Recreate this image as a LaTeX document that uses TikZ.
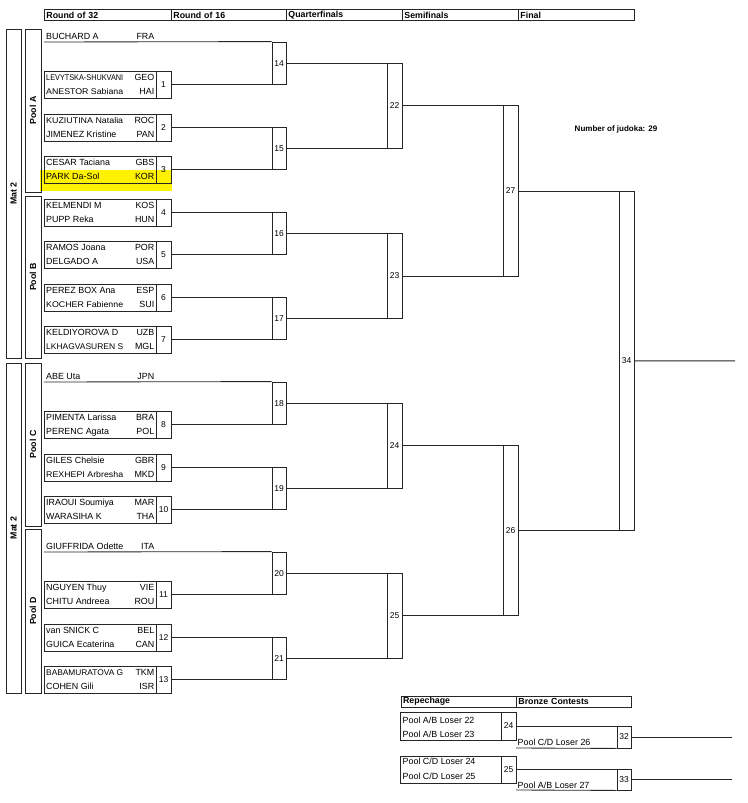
\documentclass[tikz,border=0pt]{standalone}
\usepackage{fontspec}
\setmainfont{Liberation Sans}
\usepackage{graphicx}
\newsavebox\nmsave
\newcommand\fitnm[1]{\sbox\nmsave{#1}\ifdim\wd\nmsave>77pt\resizebox{77pt}{0.93\height}{#1}\else#1\fi}
\tikzset{
 ln/.style={draw=black!85, line width=0.85pt},
 pbox/.style={ln, inner sep=0pt, rectangle},
 nbox/.style={ln, inner sep=0pt, rectangle, font=\fontsize{8.5}{9}\selectfont},
 nm/.style={inner sep=0pt, font=\fontsize{8.9}{10}\selectfont},
 hdr/.style={ln, inner xsep=2pt, inner ysep=0pt, minimum height=11, align=left, anchor=west, font=\bfseries\fontsize{8.8}{10}\selectfont},
 side/.style={ln, inner sep=0pt, rotate=90, font=\bfseries\fontsize{8.8}{10}\selectfont},
 conn/.style={draw=black!85, line width=0.85pt},
}
% box from (x1,y1) to (x2,y2)
\newcommand\tbox[6]{\node[nbox, minimum width={#4-#2}, minimum height={#5-#3}] (#1) at ({(#2+#4)/2},{(#3+#5)/2}) {#6};}
% round of 32 match: id, top, name1, cc1, name2, cc2
\newcommand\rmatch[6]{%
 \node[pbox, minimum width=112, minimum height=27] (m#1) at (100,{#2+13.5}) {};
 \node[nbox, minimum width=15, minimum height=27] (n#1) at (163.5,{#2+13.5}) {#1};
 \node[nm, anchor=base west] (m#1a) at (46,{#2+9.7}) {\fitnm{#3}};
 \node[nm, anchor=base east] (m#1ac) at (154.5,{#2+9.7}) {#4};
 \node[nm, anchor=base west] (m#1b) at (46,{#2+23.7}) {\fitnm{#5}};
 \node[nm, anchor=base east] (m#1bc) at (154.5,{#2+23.7}) {#6};
}
\begin{document}
\begin{tikzpicture}[x=1pt,y=-1pt]
\useasboundingbox (0,0) rectangle (747,803);
\fill[yellow] (40,170) rectangle (172,191);
% headers
\node[hdr, text width=123pt] (h1) at (44,15) {Round of 32};
\node[hdr, text width=111pt] (h2) at (171,15) {Round of 16};
\node[hdr, text width=112pt] (h3) at (286,15) {Quarterfinals};
\node[hdr, text width=112pt] (h4) at (402,15) {Semifinals};
\node[hdr, text width=112pt] (h5) at (518,15) {Final};
% mat and pool boxes
\node[side, minimum width=329, minimum height=15] (mat1) at (13.5,193.5) {Mat 2};
\node[side, minimum width=330, minimum height=15] (mat2) at (13.5,528) {Mat 2};
\node[side, minimum width=163, minimum height=16] (pA) at (33,110.5) {Pool A};
\node[side, minimum width=162, minimum height=16] (pB) at (33,277) {Pool B};
\node[side, minimum width=163, minimum height=16] (pC) at (33,444.5) {Pool C};
\node[side, minimum width=164, minimum height=16] (pD) at (33,611) {Pool D};
% round of 32
\rmatch{1}{71}{LEVYTSKA-SHUKVANI}{GEO}{ANESTOR Sabiana}{HAI}
\rmatch{2}{114}{KUZIUTINA Natalia}{ROC}{JIMENEZ Kristine}{PAN}
\rmatch{3}{156}{CESAR Taciana}{GBS}{PARK Da-Sol}{KOR}
\rmatch{4}{199}{KELMENDI M}{KOS}{PUPP Reka}{HUN}
\rmatch{5}{241}{RAMOS Joana}{POR}{DELGADO A}{USA}
\rmatch{6}{284}{PEREZ BOX Ana}{ESP}{KOCHER Fabienne}{SUI}
\rmatch{7}{326}{KELDIYOROVA D}{UZB}{LKHAGVASUREN S}{MGL}
\rmatch{8}{411}{PIMENTA Larissa}{BRA}{PERENC Agata}{POL}
\rmatch{9}{454}{GILES Chelsie}{GBR}{REXHEPI Arbresha}{MKD}
\rmatch{10}{496}{IRAOUI Soumiya}{MAR}{WARASIHA K}{THA}
\rmatch{11}{581}{NGUYEN Thuy}{VIE}{CHITU Andreea}{ROU}
\rmatch{12}{624}{van SNICK C}{BEL}{GUICA Ecaterina}{CAN}
\rmatch{13}{666}{BABAMURATOVA G}{TKM}{COHEN Gili}{ISR}
% byes
\node[nm, anchor=base west] (s1a) at (46,39.3) {BUCHARD A};
\node[nm, anchor=base east] (s1c) at (154.5,39.3) {FRA};
\coordinate (s1) at (44,42);
\node[nm, anchor=base west] (s2a) at (46,379.3) {ABE Uta};
\node[nm, anchor=base east] (s2c) at (154.5,379.3) {JPN};
\coordinate (s2) at (44,382);
\node[nm, anchor=base west] (s3a) at (46,549.3) {GIUFFRIDA Odette};
\node[nm, anchor=base east] (s3c) at (154.5,549.3) {ITA};
\coordinate (s3) at (44,552);
% round of 16
\tbox{n14}{272}{42}{286}{84.5}{14}
\tbox{n15}{272}{127.5}{286}{169.5}{15}
\tbox{n16}{272}{212.5}{286}{254.5}{16}
\tbox{n17}{272}{297.5}{286}{339.5}{17}
\tbox{n18}{272}{382}{286}{424.5}{18}
\tbox{n19}{272}{467.5}{286}{509.5}{19}
\tbox{n20}{272}{552}{286}{594.5}{20}
\tbox{n21}{272}{637.5}{286}{679.5}{21}
% quarterfinals
\tbox{n22}{387}{63.25}{402}{148.5}{22}
\tbox{n23}{387}{233.5}{402}{318.5}{23}
\tbox{n24}{387}{403.25}{402}{488.5}{24}
\tbox{n25}{387}{573.25}{402}{658.5}{25}
% semifinals
\tbox{n27}{503}{105.875}{518}{276}{27}
\tbox{n26}{503}{445.875}{518}{615.875}{26}
% final
\tbox{n34}{619}{190.9375}{634}{530.875}{34}
\coordinate (fin) at (735,360.906);
% connectors
\draw[conn] (s1) -- (n14.north west);
\draw[conn] (n1.east) -- (n1.east -| n14.west);
\draw[conn] (n2.east) -- (n2.east -| n15.west);
\draw[conn] (n3.east) -- (n3.east -| n15.west);
\draw[conn] (n4.east) -- (n4.east -| n16.west);
\draw[conn] (n5.east) -- (n5.east -| n16.west);
\draw[conn] (n6.east) -- (n6.east -| n17.west);
\draw[conn] (n7.east) -- (n7.east -| n17.west);
\draw[conn] (s2) -- (n18.north west);
\draw[conn] (n8.east) -- (n8.east -| n18.west);
\draw[conn] (n9.east) -- (n9.east -| n19.west);
\draw[conn] (n10.east) -- (n10.east -| n19.west);
\draw[conn] (s3) -- (n20.north west);
\draw[conn] (n11.east) -- (n11.east -| n20.west);
\draw[conn] (n12.east) -- (n12.east -| n21.west);
\draw[conn] (n13.east) -- (n13.east -| n21.west);
\draw[conn] (n14.east) -- (n14.east -| n22.west);
\draw[conn] (n15.east) -- (n15.east -| n22.west);
\draw[conn] (n16.east) -- (n16.east -| n23.west);
\draw[conn] (n17.east) -- (n17.east -| n23.west);
\draw[conn] (n18.east) -- (n18.east -| n24.west);
\draw[conn] (n19.east) -- (n19.east -| n24.west);
\draw[conn] (n20.east) -- (n20.east -| n25.west);
\draw[conn] (n21.east) -- (n21.east -| n25.west);
\draw[conn] (n22.east) -- (n22.east -| n27.west);
\draw[conn] (n23.east) -- (n23.east -| n27.west);
\draw[conn] (n24.east) -- (n24.east -| n26.west);
\draw[conn] (n25.east) -- (n25.east -| n26.west);
\draw[conn] (n27.east) -- (n27.east -| n34.west);
\draw[conn] (n26.east) -- (n26.east -| n34.west);
\draw[conn] (n34.east) -- (fin);
% number of judoka
\node[inner sep=0pt, font=\bfseries\fontsize{8}{9}\selectfont] (jud) at (616,129) {Number of judoka: 29};
% repechage
\node[hdr, text width=111.3pt] (rh1) at (400.7,701.5) {Repechage};
\node[hdr, text width=111pt] (rh2) at (516,701.5) {Bronze Contests};
\tbox{rp24}{400.7}{712}{501}{740}{}
\tbox{rn24}{501}{712}{516}{740}{24}
\node[nm, anchor=base west] (rp24a) at (402.5,723.2) {Pool A/B Loser 22};
\node[nm, anchor=base west] (rp24b) at (402.5,737.2) {Pool A/B Loser 23};
\tbox{n32}{617}{726}{631}{748}{32}
\coordinate (b32) at (516,748);
\node[nm, anchor=base west] (l26) at (517.5,745.5) {Pool C/D Loser 26};
\coordinate (o32) at (732,737);
\draw[conn] (rn24.east) -- (rn24.east -| n32.west);
\draw[conn] (b32) -- (n32.south west);
\draw[conn] (n32.east) -- (o32);
\tbox{rp25}{400.7}{756}{501}{783}{}
\tbox{rn25}{501}{756}{516}{783}{25}
\node[nm, anchor=base west] (rp25a) at (402.5,764.3) {Pool C/D Loser 24};
\node[nm, anchor=base west] (rp25b) at (402.5,779.8) {Pool C/D Loser 25};
\tbox{n33}{617}{769.5}{631}{790}{33}
\coordinate (b33) at (516,790);
\node[nm, anchor=base west] (l27) at (517.5,788.2) {Pool A/B Loser 27};
\coordinate (o33) at (732,779.75);
\draw[conn] (rn25.east) -- (rn25.east -| n33.west);
\draw[conn] (b33) -- (n33.south west);
\draw[conn] (n33.east) -- (o33);
\end{tikzpicture}
\end{document}
